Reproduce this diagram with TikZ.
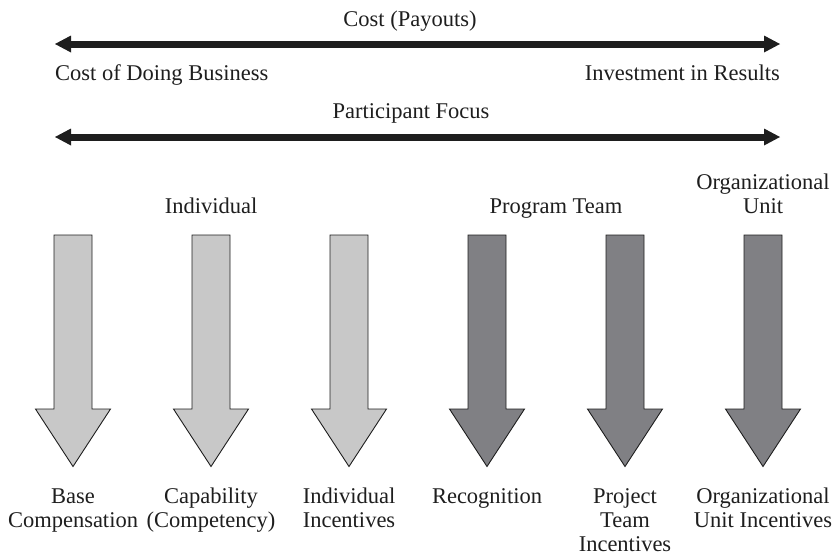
\documentclass[tikz,border=0pt]{standalone}
\usepackage{fontspec}
\setmainfont{Liberation Serif}
\usetikzlibrary{arrows.meta}
\definecolor{lightfill}{RGB}{200,200,200}
\definecolor{darkfill}{RGB}{128,128,132}
\definecolor{inkk}{RGB}{30,30,30}
\tikzset{
  lbl/.style={inner sep=0pt, font=\fontsize{22.5}{24}\selectfont, text=inkk, align=center},
  bigarrow/.style={draw=inkk, line width=7pt,
    {Triangle[length=16pt,width=17pt,line width=0pt]}-{Triangle[length=16pt,width=17pt,line width=0pt]}},
  downarr/.style={draw=inkk, line width=0.9pt, line join=miter}
}
\newcommand{\downshape}[2]{%
  \path[downarr, fill=#2] (#1-19,235) -- (#1+19,235) -- (#1+19,409) -- (#1+37.5,409)
    -- (#1,466.5) -- (#1-37.5,409) -- (#1-19,409) -- cycle;}
\begin{document}
\begin{tikzpicture}[x=1pt,y=-1pt]
\useasboundingbox (0,0) rectangle (833,558);
% top arrow
\coordinate (costL) at (55,44);
\coordinate (costR) at (780,44);
\draw[bigarrow] (costL) -- (costR);
\node[lbl, anchor=base] (cost) at (410,26) {Cost (Payouts)};
\node[lbl, anchor=base west] (cdb) at (55,80) {Cost of Doing Business};
\node[lbl, anchor=base east] (inv) at (780,80) {Investment in Results};
% second arrow
\coordinate (pfL) at (55,137);
\coordinate (pfR) at (780,137);
\draw[bigarrow] (pfL) -- (pfR);
\node[lbl, anchor=base] (pf) at (411,118) {Participant Focus};
% group labels (anchor base = baseline of the last line)
\node[lbl, anchor=base] (gind) at (211,213) {Individual};
\node[lbl, anchor=base] (gteam) at (556,213) {Program Team};
\node[lbl, anchor=base] (gorg) at (763,213) {Organizational\\Unit};
% vertical arrows
\downshape{73}{lightfill}
\downshape{211}{lightfill}
\downshape{349}{lightfill}
\downshape{487}{darkfill}
\downshape{625}{darkfill}
\downshape{763}{darkfill}
% bottom labels (anchor base = baseline of the last line)
\node[lbl, anchor=base] (l1) at (73,527) {Base\\Compensation};
\node[lbl, anchor=base] (l2) at (211,527) {Capability\\(Competency)};
\node[lbl, anchor=base] (l3) at (349,527) {Individual\\Incentives};
\node[lbl, anchor=base] (l4) at (487,503) {Recognition};
\node[lbl, anchor=base] (l5) at (625,551) {Project\\Team\\Incentives};
\node[lbl, anchor=base] (l6) at (763,527) {Organizational\\Unit Incentives};
\end{tikzpicture}
\end{document}
